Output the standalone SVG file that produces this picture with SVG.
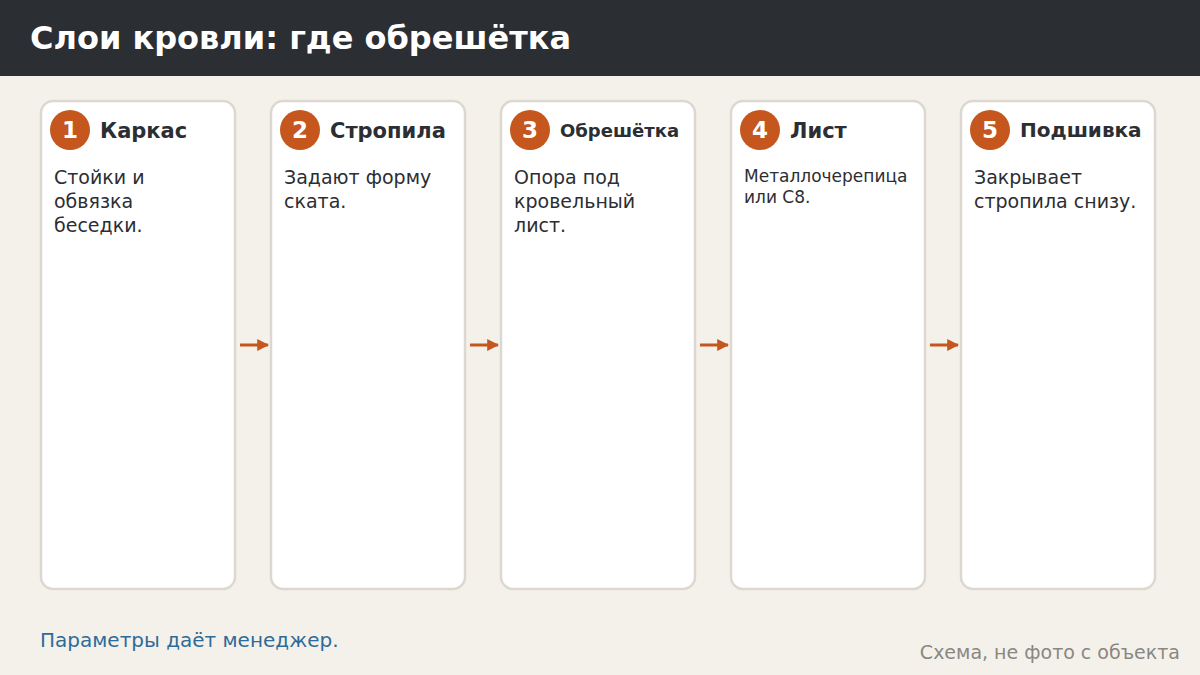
<svg xmlns="http://www.w3.org/2000/svg" width="1200" height="675" viewBox="0 0 1200 675">
<style>
.card{fill:#ffffff;stroke:#ddd8cf;stroke-width:2.5}
.badge{fill:#c4561e}
.num{font-family:"DejaVu Sans",sans-serif;font-weight:bold;font-size:23px;fill:#ffffff;text-anchor:middle}
.ttl{font-family:"DejaVu Sans",sans-serif;font-weight:bold;font-size:21px;fill:#2b2e33}
.body{font-family:"DejaVu Sans",sans-serif;font-size:19px;fill:#2b2e33}
.conn{stroke:#c4561e;stroke-width:3;fill:none}
</style>
<defs>
<marker id="ah" viewBox="0 0 10 10" refX="9" refY="5" markerWidth="4" markerHeight="4" orient="auto" markerUnits="strokeWidth">
<path d="M0,0 L10,5 L0,10 Z" fill="#c4561e"/>
</marker>
</defs>
<rect x="0" y="0" width="1200" height="675" fill="#f4f1eb"/>
<rect x="0" y="0" width="1200" height="76" fill="#2b2e33"/>
<text x="30" y="49" font-family="DejaVu Sans, sans-serif" font-weight="bold" font-size="32" fill="#ffffff">Слои кровли: где обрешётка</text>

<g id="node1">
<rect class="card" x="41" y="101" width="194" height="488" rx="12"/>
<circle class="badge" cx="70" cy="130" r="20"/>
<text class="num" x="70" y="138">1</text>
<text class="ttl" x="100" y="138">Каркас</text>
<text class="body" x="54" y="184">Стойки и</text>
<text class="body" x="54" y="208">обвязка</text>
<text class="body" x="54" y="232">беседки.</text>
</g>
<g id="node2">
<rect class="card" x="271" y="101" width="194" height="488" rx="12"/>
<circle class="badge" cx="300" cy="130" r="20"/>
<text class="num" x="300" y="138">2</text>
<text class="ttl" x="330" y="138">Стропила</text>
<text class="body" x="284" y="184">Задают форму</text>
<text class="body" x="284" y="208">ската.</text>
</g>
<g id="node3">
<rect class="card" x="501" y="101" width="194" height="488" rx="12"/>
<circle class="badge" cx="530" cy="130" r="20"/>
<text class="num" x="530" y="138">3</text>
<text class="ttl" x="560" y="137" style="font-size:18px">Обрешётка</text>
<text class="body" x="514" y="184">Опора под</text>
<text class="body" x="514" y="208">кровельный</text>
<text class="body" x="514" y="232">лист.</text>
</g>
<g id="node4">
<rect class="card" x="731" y="101" width="194" height="488" rx="12"/>
<circle class="badge" cx="760" cy="130" r="20"/>
<text class="num" x="760" y="138">4</text>
<text class="ttl" x="790" y="138">Лист</text>
<text class="body" x="744" y="182" style="font-size:17px">Металлочерепица</text>
<text class="body" x="744" y="203" style="font-size:17px">или С8.</text>
</g>
<g id="node5">
<rect class="card" x="961" y="101" width="194" height="488" rx="12"/>
<circle class="badge" cx="990" cy="130" r="20"/>
<text class="num" x="990" y="138">5</text>
<text class="ttl" x="1020" y="137" style="font-size:20px">Подшивка</text>
<text class="body" x="974" y="184">Закрывает</text>
<text class="body" x="974" y="208">стропила снизу.</text>
</g>

<g id="connectors">
<line class="conn" x1="240" y1="345" x2="268" y2="345" marker-end="url(#ah)"/>
<line class="conn" x1="470" y1="345" x2="498" y2="345" marker-end="url(#ah)"/>
<line class="conn" x1="700" y1="345" x2="728" y2="345" marker-end="url(#ah)"/>
<line class="conn" x1="930" y1="345" x2="958" y2="345" marker-end="url(#ah)"/>
</g>

<text x="40" y="647" font-family="DejaVu Sans, sans-serif" font-size="20" fill="#2f6b99">Параметры даёт менеджер.</text>
<text x="1180" y="659" text-anchor="end" font-family="DejaVu Sans, sans-serif" font-size="19" fill="#8a8782">Схема, не фото с объекта</text>
</svg>
